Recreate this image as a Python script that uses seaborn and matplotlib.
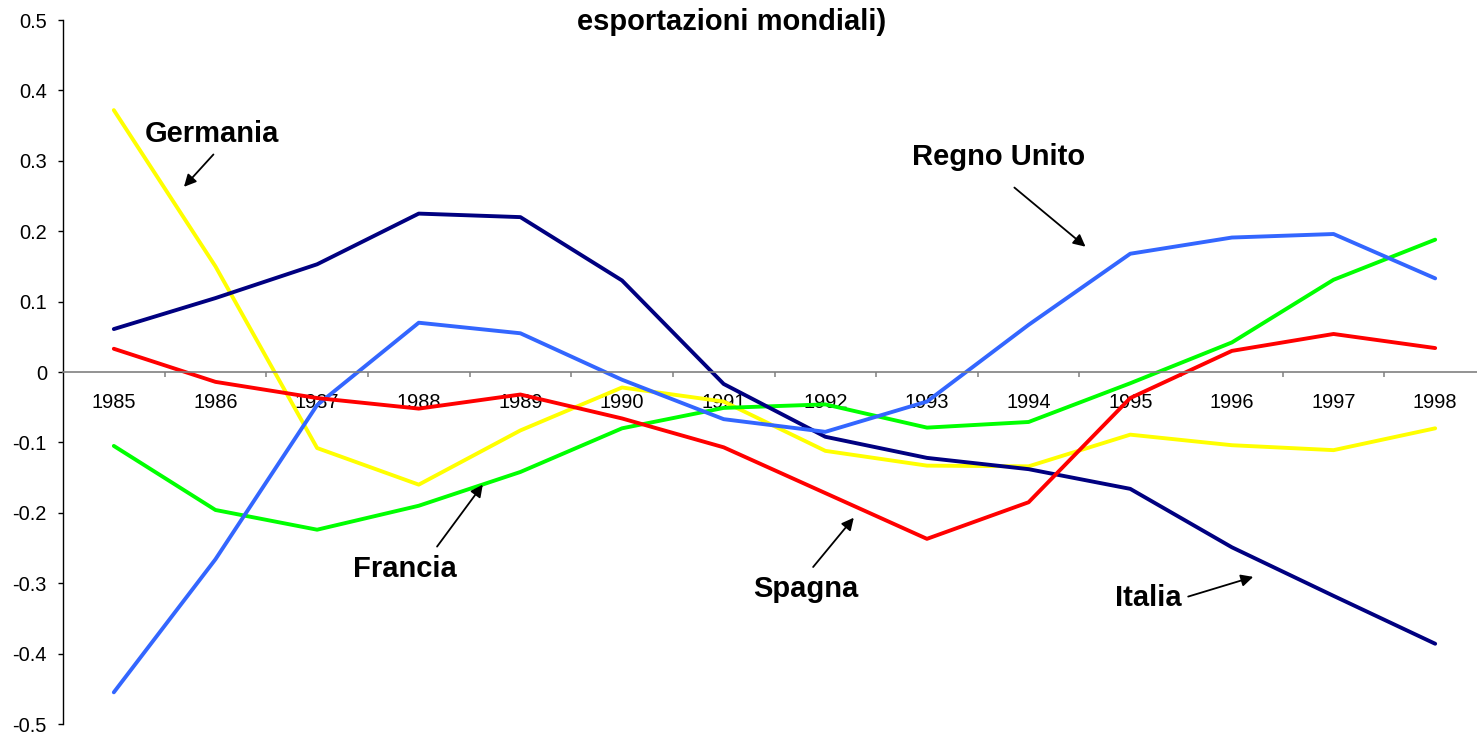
import numpy as np
import pandas as pd
import matplotlib
matplotlib.use("Agg")
import matplotlib.pyplot as plt
import seaborn as sns

years = [1985, 1986, 1987, 1988, 1989, 1990, 1991, 1992, 1993, 1994, 1995, 1996, 1997, 1998]
germania = [0.372, 0.150, -0.108, -0.160, -0.083, -0.022, -0.042, -0.112, -0.133, -0.134, -0.089, -0.104, -0.111, -0.080]
francia = [-0.105, -0.196, -0.224, -0.190, -0.142, -0.080, -0.051, -0.046, -0.079, -0.071, -0.016, 0.042, 0.131, 0.188]
italia = [0.061, 0.105, 0.153, 0.225, 0.220, 0.130, -0.017, -0.092, -0.122, -0.138, -0.166, -0.249, -0.318, -0.386]
regno_unito = [-0.455, -0.266, -0.047, 0.070, 0.055, -0.011, -0.067, -0.085, -0.042, 0.067, 0.168, 0.191, 0.196, 0.133]
spagna = [0.033, -0.014, -0.037, -0.052, -0.032, -0.066, -0.107, -0.172, -0.237, -0.185, -0.037, 0.030, 0.054, 0.034]

series = {
    "Germania": germania,
    "Francia": francia,
    "Italia": italia,
    "Regno Unito": regno_unito,
    "Spagna": spagna,
}
colors = {
    "Germania": "#FFFF00",
    "Francia": "#00FF00",
    "Italia": "#000080",
    "Regno Unito": "#3366FF",
    "Spagna": "#FF0000",
}

y_ticks = [-0.5, -0.4, -0.3, -0.2, -0.1, 0, 0.1, 0.2, 0.3, 0.4, 0.5]
y_labels = ["-0.5", "-0.4", "-0.3", "-0.2", "-0.1", "0", "0.1", "0.2", "0.3", "0.4", "0.5"]

rows = []
for name, vals in series.items():
    for i, (yr, v) in enumerate(zip(years, vals)):
        rows.append({"pos": i, "anno": yr, "valore": v, "paese": name})
df = pd.DataFrame(rows)

sns.set_style("white")
plt.rcParams["font.family"] = ["Liberation Sans", "DejaVu Sans"]
plt.rcParams["text.color"] = "black"
plt.rcParams["xtick.color"] = "black"
plt.rcParams["ytick.color"] = "black"
plt.rcParams["axes.labelcolor"] = "black"

W, H = 1477, 734
fig = plt.figure(figsize=(W / 100, H / 100), dpi=100)
ax = fig.add_axes([63 / W, 10 / H, (1486 - 63) / W, 704 / H])

sns.lineplot(data=df, x="pos", y="valore", hue="paese", palette=colors,
             hue_order=list(series.keys()), linewidth=2.8, legend=False,
             estimator=None, sort=False, ax=ax)

ax.set_xlim(-0.5, len(years) - 0.5)
ax.set_ylim(-0.5, 0.5)
ax.set_xlabel("")
ax.set_ylabel("")

ax.set_yticks(y_ticks)
ax.set_yticklabels(y_labels)
ax.tick_params(axis="y", direction="out", length=3.6, width=1, color="black",
               labelcolor="black", labelsize=14.4, pad=8, left=True)

ax.set_xticks(range(len(years)))
ax.set_xticklabels([str(y) for y in years])
ax.set_xticks(np.arange(0.5, len(years) - 0.5, 1), minor=True)
ax.tick_params(axis="x", which="major", length=0, pad=15, labelsize=14.4, labelcolor="black")
ax.tick_params(axis="x", which="minor", direction="out", length=3.6, width=1.1,
               color="#808080", bottom=True)

for s in ["top", "right"]:
    ax.spines[s].set_visible(False)
ax.spines["left"].set_color("black")
ax.spines["left"].set_linewidth(1)
ax.spines["bottom"].set_position(("data", 0))
ax.spines["bottom"].set_color("#808080")
ax.spines["bottom"].set_linewidth(1.2)
ax.grid(False)

fig.text(732 / W, 1 - 22 / H, "esportazioni mondiali)", ha="center", va="center",
         fontsize=21, fontweight="bold", color="black")

ann = dict(fontsize=21, fontweight="bold", ha="center", va="center", color="black")
arrow = dict(arrowstyle="-|>", color="black", lw=1.3, mutation_scale=18, shrinkA=0, shrinkB=0)

ax.text(0.97, 0.338, "Germania", **ann)
ax.annotate("", xy=(0.69, 0.263), xytext=(0.98, 0.309), arrowprops=arrow)

ax.text(8.70, 0.306, "Regno Unito", **ann)
ax.annotate("", xy=(9.56, 0.178), xytext=(8.86, 0.262), arrowprops=arrow)

ax.text(2.86, -0.280, "Francia", **ann)
ax.annotate("", xy=(3.63, -0.160), xytext=(3.18, -0.248), arrowprops=arrow)

ax.text(6.81, -0.308, "Spagna", **ann)
ax.annotate("", xy=(7.28, -0.207), xytext=(6.88, -0.277), arrowprops=arrow)

ax.text(10.18, -0.321, "Italia", **ann)
ax.annotate("", xy=(11.21, -0.291), xytext=(10.57, -0.319), arrowprops=arrow)

fig.savefig("out.png", dpi=100)
